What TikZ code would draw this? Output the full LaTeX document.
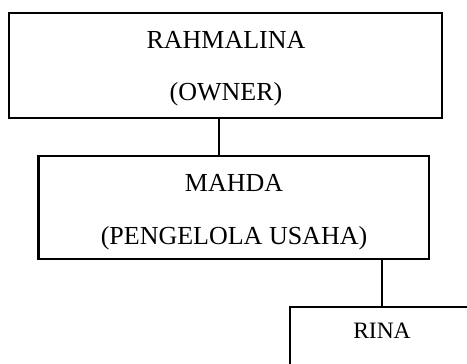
\documentclass[tikz,border=0pt]{standalone}
\usepackage{fontspec}
\setmainfont{Liberation Serif}
\begin{document}
\begin{tikzpicture}[x=1pt,y=1pt,
  box/.style={draw=black, line width=2.2pt, minimum width=#1, inner sep=0pt, outer sep=0pt},
  conn/.style={draw=black, line width=2.2pt},
  lbl/.style={anchor=base, inner sep=0pt, font=\fontsize{26}{30}\selectfont},
  slbl/.style={anchor=base, inner sep=0pt, font=\fontsize{23.5}{28}\selectfont}]
\useasboundingbox (0,0) rectangle (467,364);
\clip (0,0) rectangle (467,364);
\node[box=433pt, minimum height=105pt] (owner) at (225.5,298.5) {};
\node[box=390.5pt, minimum height=103pt] (manager) at (233.75,156.5) {};
\node[box=184pt, minimum height=90pt, anchor=north west] (staff) at (290,57) {};
\node[lbl] (t1) at (226,315) {RAHMALINA};
\node[lbl] (t2) at (226,263) {(OWNER)};
\node[lbl] (t3) at (234,172) {MAHDA};
\node[lbl] (t4) at (234,119) {(PENGELOLA USAHA)};
\node[slbl] (t5) at (382,25) {RINA};
\coordinate (c1) at (219,0);
\coordinate (c2) at (382,0);
\draw[conn] (owner.south -| c1) -- (manager.north -| c1);
\draw[conn] (manager.south -| c2) -- (staff.north -| c2);
\end{tikzpicture}
\end{document}
